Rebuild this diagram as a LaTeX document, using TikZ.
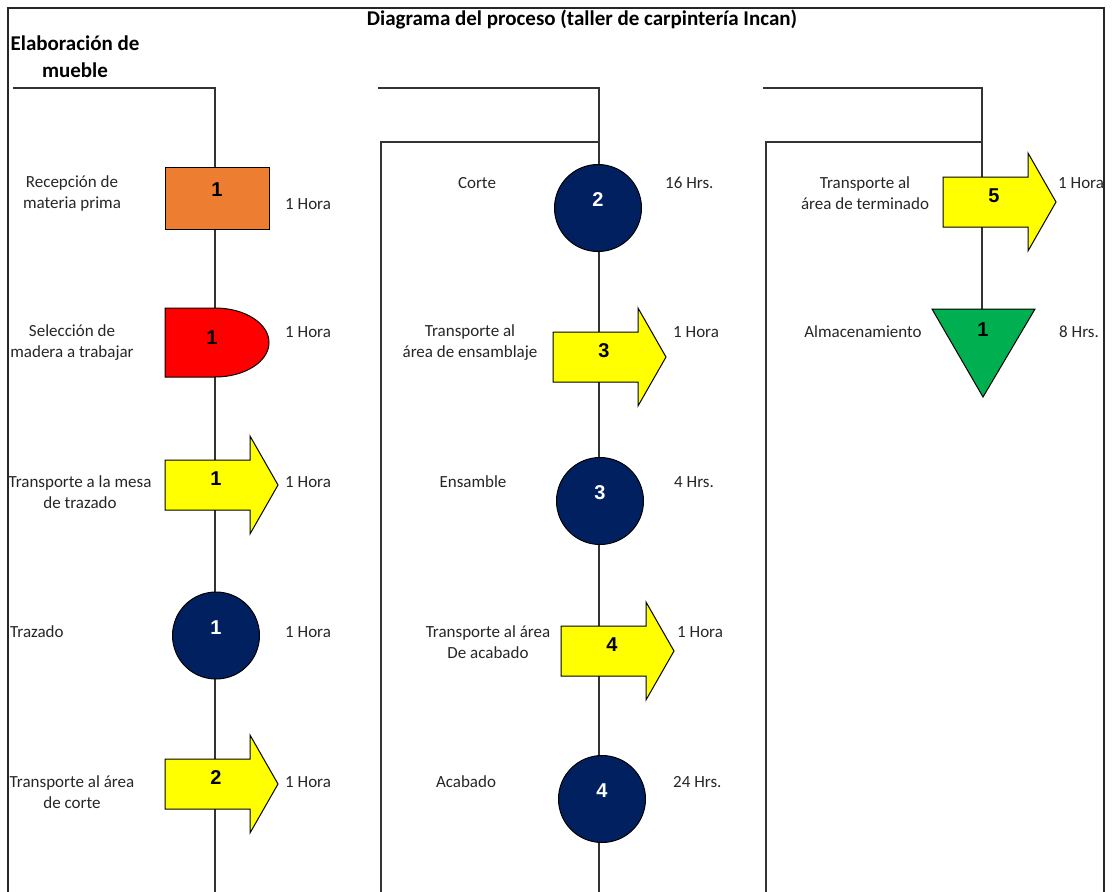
\documentclass[tikz,border=0pt]{standalone}
\usepackage{fontspec}
\setmainfont{Carlito}
\newfontfamily\numfont{Liberation Sans}
\usepackage{tikz}
\definecolor{naranja}{HTML}{ED7D31}
\definecolor{rojo}{HTML}{FF0000}
\definecolor{amarillo}{HTML}{FFFF00}
\definecolor{azul}{HTML}{002060}
\definecolor{verde}{HTML}{00B050}
\tikzset{
  num/.style={font=\numfont\bfseries\fontsize{20}{20}\selectfont,inner sep=0pt},
  forma/.style={draw=black,line width=1pt},
  flecha/.pic={
    \filldraw[forma,fill=amarillo] (0,-25) -- (85,-25) -- (85,-49)
      -- (113,0) -- (85,49) -- (85,25) -- (0,25) -- cycle;
    \node[num] (-n) at (51,-6) {#1};}
}

\begin{document}
\begin{tikzpicture}[x=1pt,y=-1pt,
  linea/.style={draw=black!80,line width=1.2pt},
  marco/.style={draw=black!85,line width=2.2pt},
  titulo/.style={font=\bfseries\fontsize{21}{27}\selectfont,inner sep=0pt,align=center},
  etiq/.style={font=\fontsize{17}{21}\selectfont,align=center,inner sep=0pt,text=black!85},
  tiempo/.style={etiq,anchor=west},
  op/.style={circle,forma,fill=azul,minimum size=87pt,inner sep=0pt}]

  \useasboundingbox (0,0) rectangle (1112,892);
  \draw[marco] (8,892) |- (1104,8) -- (1104,892);

  % puntos de las lineas
  \coordinate (c1a) at (13,88);
  \coordinate (c1b) at (215,892);
  \coordinate (c2a) at (378,88);
  \coordinate (c2b) at (599,892);
  \coordinate (c2c) at (599,142);
  \coordinate (c2d) at (381,892);
  \coordinate (c3a) at (763,88);
  \coordinate (c3b) at (982,309);
  \coordinate (c3c) at (982,142);
  \coordinate (c3d) at (766,892);

  \draw[linea] (c1a) -| (c1b);
  \draw[linea] (c2a) -| (c2b);
  \draw[linea] (c2d) |- (c2c);
  \draw[linea] (c3a) -| (c3b);
  \draw[linea] (c3d) |- (c3c);

  \node[titulo] (tit) at (582,19) {Diagrama del proceso (taller de carpintería Incan)};
  \node[titulo] (sub) at (75,57) {Elaboración de\\mueble};

  % columna 1
  \node[forma,fill=naranja,minimum width=104pt,minimum height=62pt,
    label={[num,yshift=8pt]center:1}] (rec) at (217,198) {};
  \filldraw[forma,fill=rojo] (165,308) -- (215,308)
    arc[start angle=-90,end angle=90,x radius=54,y radius=34.5] -- (165,377) -- cycle;
  \node[num] (sel) at (212,338) {1};
  \pic (t1) at (165,485) {flecha=1};
  \node[op,label={[num,text=white,yshift=8pt]center:1}] (o1) at (216,635.5) {};
  \pic (t2) at (165,784) {flecha=2};

  \node[etiq] (l1) at (72,193) {Recepción de\\materia prima};
  \node[etiq] (l2) at (72,343) {Selección de\\madera a trabajar};
  \node[etiq] (l3) at (80,492) {Transporte a la mesa\\de trazado};
  \node[etiq,anchor=west] (l4) at (10,632) {Trazado};
  \node[etiq] (l5) at (72,792) {Transporte al área\\de corte};
  \node[tiempo] (h1) at (285,204) {1 Hora};
  \node[tiempo] (h2) at (285,332) {1 Hora};
  \node[tiempo] (h3) at (285,482) {1 Hora};
  \node[tiempo] (h4) at (285,632) {1 Hora};
  \node[tiempo] (h5) at (285,782) {1 Hora};

  % columna 2
  \node[op,label={[num,text=white,yshift=8pt]center:2}] (o2) at (598,208) {};
  \pic (t3) at (553,357) {flecha=3};
  \node[op,label={[num,text=white,yshift=8pt]center:3}] (o3) at (600,501) {};
  \pic (t4) at (561,651) {flecha=4};
  \node[op,label={[num,text=white,yshift=8pt]center:4}] (o4) at (602,799) {};

  \node[etiq] (l6) at (477,183) {Corte};
  \node[etiq] (l7) at (470,343) {Transporte al\\área de ensamblaje};
  \node[etiq] (l8) at (473,482) {Ensamble};
  \node[etiq] (l9) at (488,642) {Transporte al área\\De acabado};
  \node[etiq] (l10) at (466,782) {Acabado};
  \node[tiempo] (h6) at (665,183) {16 Hrs.};
  \node[tiempo] (h7) at (673,332) {1 Hora};
  \node[tiempo] (h8) at (674,482) {4 Hrs.};
  \node[tiempo] (h9) at (677,632) {1 Hora};
  \node[tiempo] (h10) at (673,782) {24 Hrs.};

  % columna 3
  \pic (t5) at (943,202) {flecha=5};
  \filldraw[forma,fill=verde] (932,309) -- (1035,309) -- (983,397) -- cycle;
  \node[num] (alm) at (983,330) {1};

  \node[etiq] (l11) at (865,193) {Transporte al\\área de terminado};
  \node[etiq] (l12) at (863,332) {Almacenamiento};
  \node[tiempo] (h11) at (1058,183) {1 Hora};
  \node[tiempo] (h12) at (1059,332) {8 Hrs.};

\end{tikzpicture}
\end{document}
